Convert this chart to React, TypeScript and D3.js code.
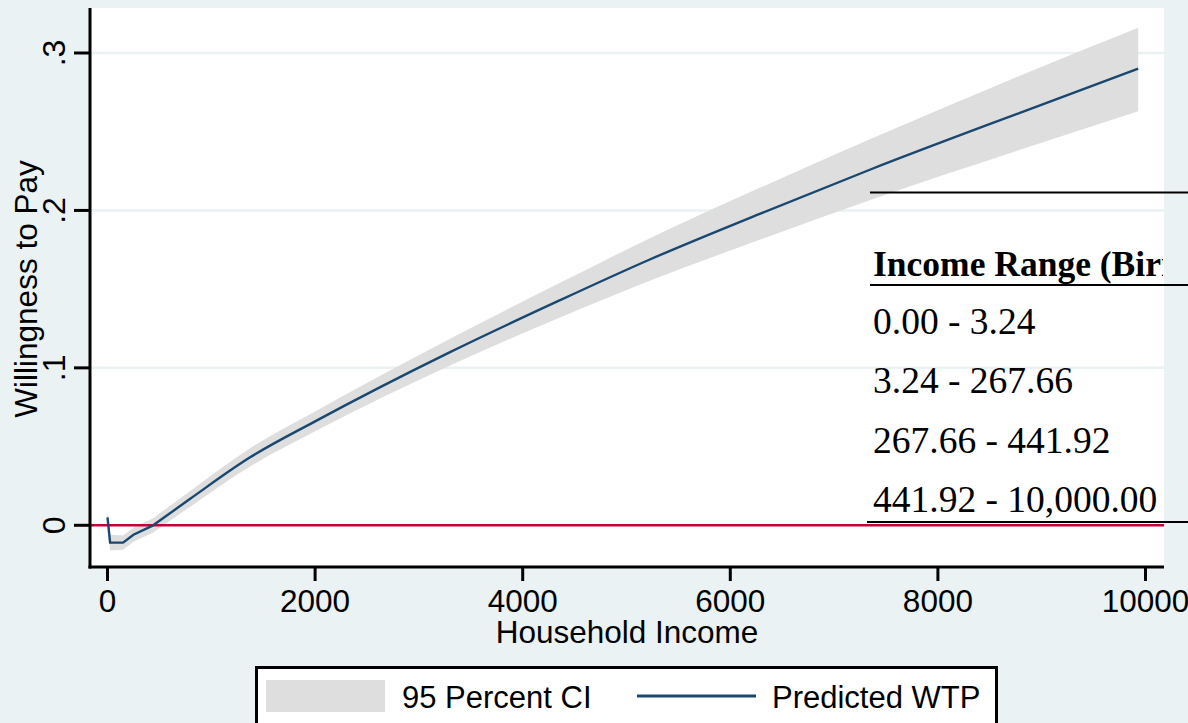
import React from "react";
import * as d3 from "d3";

const income = [0, 25, 150, 250, 440, 800, 1370, 2000, 3300, 4360, 5230, 6290, 7350, 8790, 9930];
const wtp = [0.005, -0.011, -0.011, -0.006, 0.0, 0.017, 0.043, 0.066, 0.11, 0.143, 0.169, 0.198, 0.226, 0.262, 0.29];
const ciLow = [0.0, -0.016, -0.0155, -0.0105, -0.0045, 0.012, 0.0372, 0.0597, 0.1015, 0.132, 0.1555, 0.1815, 0.2067, 0.2385, 0.263];
const ciHigh = [0.01, -0.006, -0.0065, -0.0015, 0.0045, 0.022, 0.0488, 0.0723, 0.1185, 0.154, 0.1825, 0.2145, 0.2453, 0.2855, 0.316];

const xTicks = [0, 2000, 4000, 6000, 8000, 10000];
const xTickLabels = ["0", "2000", "4000", "6000", "8000", "10000"];
const yTicks = [0, 0.1, 0.2, 0.3];
const yTickLabels = ["0", ".1", ".2", ".3"];

const tableHeader = "Income Range (Birr)";
const tableRows = ["0.00 - 3.24", "3.24 - 267.66", "267.66 - 441.92", "441.92 - 10,000.00"];

const legendLabels = ["95 Percent CI", "Predicted WTP"];

const W = 1188;
const H = 723;
const plot = { left: 91, right: 1164, top: 8, bottom: 567 };

export default function App() {
  const x = d3.scaleLinear().domain([0, 10000]).range([107.5, 1145.5]);
  const y = d3.scaleLinear().domain([0, 0.3]).range([525.3, 53]);

  const pts = income.map((v, i) => ({ inc: v, w: wtp[i], lo: ciLow[i], hi: ciHigh[i] }));
  const smooth = pts.slice(4);
  const head = pts.slice(0, 5);
  const area = d3
    .area<any>()
    .x((d) => x(d.inc))
    .y0((d) => y(d.lo))
    .y1((d) => y(d.hi));
  const areaSmooth = d3
    .area<any>()
    .curve(d3.curveMonotoneX)
    .x((d) => x(d.inc))
    .y0((d) => y(d.lo))
    .y1((d) => y(d.hi));
  const line = d3
    .line<any>()
    .x((d) => x(d.inc))
    .y((d) => y(d.w));
  const lineSmooth = d3
    .line<any>()
    .curve(d3.curveMonotoneX)
    .x((d) => x(d.inc))
    .y((d) => y(d.w));

  const sans = "'Liberation Sans', Arial, sans-serif";
  const serif = "'Liberation Serif', 'Times New Roman', serif";
  const bg = "#eaf2f3";
  const navy = "#1a476f";

  return (
    <svg width={W} height={H} style={{ position: "absolute", left: 0, top: 0 }}>
      <defs>
        <clipPath id="tclip">
          <rect x={0} y={0} width={plot.right - 1} height={H} />
        </clipPath>
      </defs>
      <rect x={0} y={0} width={W} height={H} fill={bg} />
      <rect x={plot.left} y={plot.top} width={plot.right - plot.left} height={plot.bottom - plot.top} fill="#ffffff" />

      {yTicks.filter((t) => t > 0).map((t) => (
        <line key={t} x1={plot.left} x2={plot.right} y1={y(t)} y2={y(t)} stroke={bg} strokeWidth={2.5} />
      ))}

      <path d={area(head) || ""} fill="#dedede" />
      <path d={areaSmooth(smooth) || ""} fill="#dedede" />
      <line x1={plot.left} x2={plot.right} y1={y(0)} y2={y(0)} stroke="#c8003a" strokeWidth={2.6} />
      <path d={line(head) || ""} fill="none" stroke={navy} strokeWidth={2.4} />
      <path d={lineSmooth(smooth) || ""} fill="none" stroke={navy} strokeWidth={2.4} />

      {/* axes */}
      <line x1={plot.left - 1} x2={plot.left - 1} y1={plot.top} y2={plot.bottom + 1.5} stroke="#000" strokeWidth={3} />
      <line x1={plot.left - 2.5} x2={plot.right} y1={plot.bottom} y2={plot.bottom} stroke="#000" strokeWidth={3} />

      {yTicks.map((t, i) => (
        <g key={t}>
          <line x1={74} x2={plot.left - 1} y1={y(t)} y2={y(t)} stroke="#000" strokeWidth={3} />
          <text
            transform={`translate(65,${y(t)}) rotate(-90)`}
            textAnchor="middle"
            fontFamily={sans}
            fontSize={32}
            fill="#000"
          >
            {yTickLabels[i]}
          </text>
        </g>
      ))}
      <text
        transform={`translate(37,289) rotate(-90)`}
        textAnchor="middle"
        fontFamily={sans}
        fontSize={31.5}
        fill="#000"
      >
        Willingness to Pay
      </text>

      {xTicks.map((t, i) => (
        <g key={t}>
          <line x1={x(t)} x2={x(t)} y1={plot.bottom} y2={581} stroke="#000" strokeWidth={3} />
          <text x={x(t)} y={612} textAnchor="middle" fontFamily={sans} fontSize={31.5} fill="#000">
            {xTickLabels[i]}
          </text>
        </g>
      ))}
      <text x={627} y={643} textAnchor="middle" fontFamily={sans} fontSize={31.5} fill="#000">
        Household Income
      </text>

      {/* table overlay */}
      <line x1={870} x2={W} y1={192.5} y2={192.5} stroke="#000" strokeWidth={2.2} />
      <g clipPath="url(#tclip)">
        <text x={873} y={276} fontFamily={serif} fontSize={35.5} fontWeight="bold" fill="#000">
          {tableHeader}
        </text>
        {tableRows.map((r, i) => (
          <text key={r} x={873} y={334 + i * 59.3} fontFamily={serif} fontSize={37.5} fill="#000">
            {r}
          </text>
        ))}
      </g>
      <line x1={870} x2={W} y1={285} y2={285} stroke="#000" strokeWidth={2.2} />
      <line x1={867} x2={W} y1={522} y2={522} stroke="#000" strokeWidth={2.2} />

      {/* legend */}
      <rect x={256.5} y={667.5} width={740} height={80} fill="#ffffff" stroke="#000" strokeWidth={3} />
      <rect x={266} y={680} width={119} height={32} fill="#dedede" />
      <text x={402} y={708} fontFamily={sans} fontSize={31} fill="#000">
        {legendLabels[0]}
      </text>
      <line x1={637} x2={756} y1={696} y2={696} stroke={navy} strokeWidth={3} />
      <text x={772} y={708} fontFamily={sans} fontSize={31} fill="#000">
        {legendLabels[1]}
      </text>
    </svg>
  );
}
